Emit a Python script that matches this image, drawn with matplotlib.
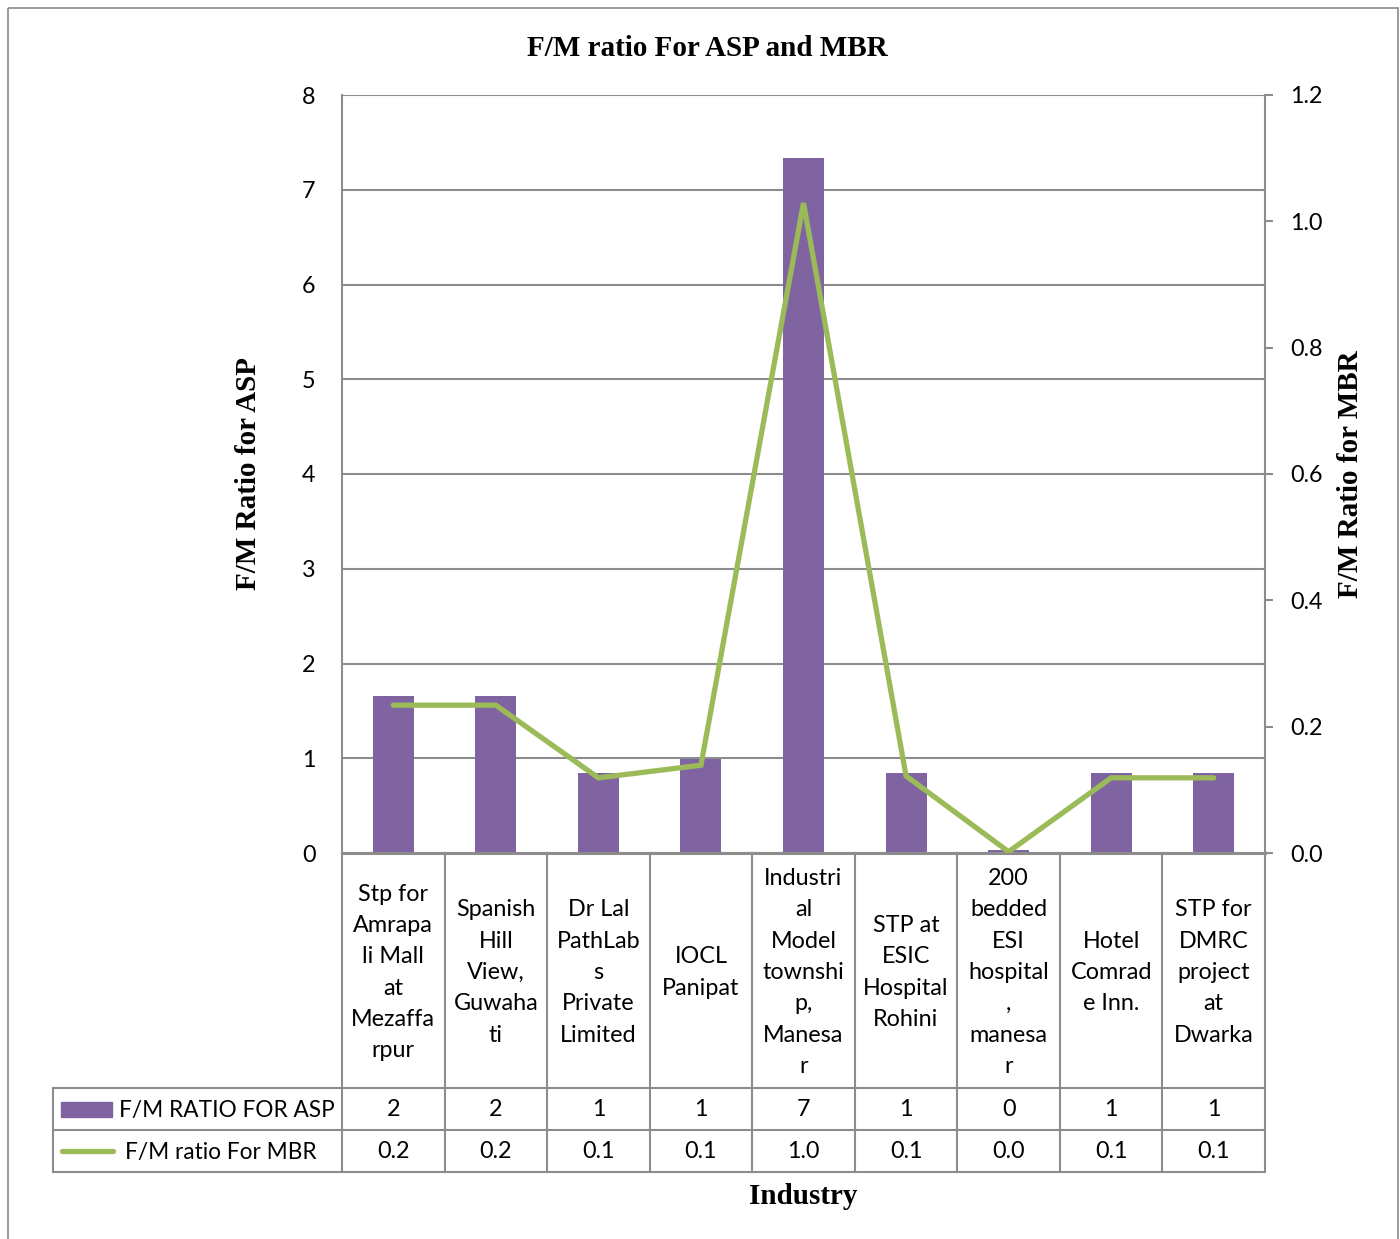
import matplotlib
matplotlib.use("Agg")
import matplotlib.pyplot as plt
import matplotlib.transforms as mtransforms
from matplotlib.patches import Rectangle
from matplotlib.lines import Line2D
import numpy as np

# ---------------- data ----------------
categories = [
    "Stp for\nAmrapa\nli Mall\nat\nMezaffa\nrpur",
    "Spanish\nHill\nView,\nGuwaha\nti",
    "Dr Lal\nPathLab\ns\nPrivate\nLimited",
    "IOCL\nPanipat",
    "Industri\nal\nModel\ntownshi\np,\nManesa\nr",
    "STP at\nESIC\nHospital\nRohini",
    "200\nbedded\nESI\nhospital\n,\nmanesa\nr",
    "Hotel\nComrad\ne Inn.",
    "STP for\nDMRC\nproject\nat\nDwarka",
]
asp_values = [1.66, 1.66, 0.84, 0.99, 7.34, 0.84, 0.03, 0.84, 0.84]
mbr_values = [0.234, 0.234, 0.119, 0.139, 1.029, 0.122, 0.002, 0.119, 0.119]
series_names = ["F/M RATIO FOR ASP", "F/M ratio For MBR"]
left_ticks = [0, 1, 2, 3, 4, 5, 6, 7, 8]
right_ticks = [0.0, 0.2, 0.4, 0.6, 0.8, 1.0, 1.2]
title = "F/M ratio For ASP and MBR"
left_label = "F/M Ratio for ASP"
right_label = "F/M Ratio for MBR"
x_label = "Industry"

PURPLE = "#8064A2"
GREEN = "#9BBB59"
GRAY = "#8c8c8c"
SANS = ["Lato", "DejaVu Sans"]
SERIF = ["Liberation Serif", "DejaVu Serif"]
FS = 16.8
LFS = 16.3
SFS = 21

W, H = 1400, 1239
fig = plt.figure(figsize=(W / 100, H / 100), dpi=100)

# overlay in pixel coordinates (for frame / table lines)
ov = fig.add_axes([0, 0, 1, 1], zorder=5)
ov.set_xlim(0, W)
ov.set_ylim(H, 0)
ov.axis("off")
ov.patch.set_alpha(0)

L, R, T, B = 342, 1265, 95, 853
ax = fig.add_axes([L / W, 1 - B / H, (R - L) / W, (B - T) / H], zorder=2)
x = np.arange(len(categories))
ax.bar(x, asp_values, width=0.4, color=PURPLE, zorder=2)
ax.set_xlim(-0.5, len(categories) - 0.5)
ax.set_ylim(0, 8)
ax.set_yticks(left_ticks)
ax.set_yticklabels([str(t) for t in left_ticks], fontfamily=SANS, fontsize=FS)
ax.tick_params(axis="y", length=0, pad=19)
ax.set_xticks([])
ax.grid(axis="y", color=GRAY, lw=1.5, zorder=0)
ax.set_axisbelow(True)
for s in ["top", "right"]:
    ax.spines[s].set_visible(False)
ax.spines["left"].set_color(GRAY)
ax.spines["left"].set_linewidth(1.5)
ax.spines["bottom"].set_color(GRAY)
ax.spines["bottom"].set_linewidth(2.2)

ax2 = ax.twinx()
ax2.plot(x, mbr_values, color=GREEN, lw=3.8, solid_capstyle="round",
         solid_joinstyle="miter", zorder=3)
ax2.set_ylim(0, 1.2)
ax2.set_yticks(right_ticks)
ax2.set_yticklabels([f"{t:.1f}" for t in right_ticks], fontfamily=SANS, fontsize=FS)
ax2.tick_params(axis="y", length=6, width=1.5, color=GRAY, pad=12, direction="out")
for s in ["top", "left", "bottom"]:
    ax2.spines[s].set_visible(False)
ax2.spines["right"].set_color(GRAY)
ax2.spines["right"].set_linewidth(1.5)

# ---------------- titles ----------------
fig.text(707 / W, 1 - 48 / H, title, fontfamily=SERIF, fontweight="bold",
         fontsize=SFS, ha="center", va="center")
fig.text(249 / W, 1 - 474 / H, left_label, fontfamily=SERIF, fontweight="bold",
         fontsize=SFS, rotation=90, ha="center", va="center")
fig.text(1351 / W, 1 - 474 / H, right_label, fontfamily=SERIF, fontweight="bold",
         fontsize=SFS, rotation=90, ha="center", va="center")
fig.text(803 / W, 1 - 1197 / H, x_label, fontfamily=SERIF, fontweight="bold",
         fontsize=SFS, ha="center", va="center")

# ---------------- data table ----------------
bt = mtransforms.blended_transform_factory(ax.transData, ov.transData)
row_cat, row1, row2, row_end = 853, 1088, 1130, 1172
tbl_left = 53
lw_t = 1.5
# vertical lines at category boundaries
for b in np.arange(-0.5, len(categories), 1.0):
    ov.add_line(Line2D([b, b], [row_cat, row_end], transform=bt, color=GRAY, lw=lw_t))
# left column lines
ov.add_line(Line2D([tbl_left, tbl_left], [row1, row_end], color=GRAY, lw=lw_t))
for yy in (row1, row2, row_end):
    ov.add_line(Line2D([tbl_left, R], [yy, yy], color=GRAY, lw=lw_t))

for i, cat in enumerate(categories):
    ov.text(i, (row_cat + row1) / 2 + 2, cat, transform=bt, ha="center", va="center",
            fontfamily=SANS, fontsize=FS, linespacing=1.61, multialignment="center")
    ov.text(i, (row1 + row2) / 2 + 1, f"{asp_values[i]:.0f}", transform=bt,
            ha="center", va="center", fontfamily=SANS, fontsize=FS)
    ov.text(i, (row2 + row_end) / 2 + 1, f"{mbr_values[i]:.1f}", transform=bt,
            ha="center", va="center", fontfamily=SANS, fontsize=FS)

# legend keys
ov.add_patch(Rectangle((61, 1102), 51, 15, color=PURPLE))
ov.text(119, (row1 + row2) / 2 + 1, series_names[0], ha="left", va="center",
        fontfamily=SANS, fontsize=LFS)
ov.add_line(Line2D([62, 113], [1151, 1151], color=GREEN, lw=3.8, solid_capstyle="round"))
ov.text(125, (row2 + row_end) / 2 + 1, series_names[1], ha="left", va="center",
        fontfamily=SANS, fontsize=LFS)

# outer frame
ov.add_patch(Rectangle((8, 8), 1390, 1250, fill=False, ec="#8a8a8a", lw=1.2))

fig.savefig("out.png", dpi=100)
